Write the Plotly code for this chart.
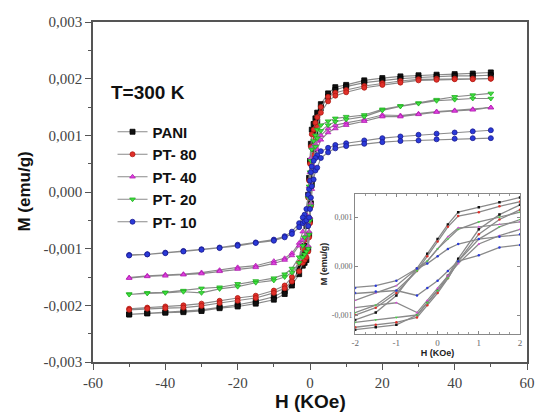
import numpy as np
import plotly.graph_objects as go

# Field grid (kOe), descending order
H = [50, 45, 40, 35, 30, 25, 20, 15, 10, 7, 5, 3, 2, 1.5, 1, 0.5, 0.25, 0,
     -0.25, -0.5, -1, -1.5, -2, -3, -5, -7, -10, -15, -20, -25, -30, -35, -40, -45, -50]

# Magnetization in 1e-3 emu/g, descending branch (field +50 -> -50) and ascending branch
PANI_desc = [2.11, 2.09, 2.08, 2.07, 2.06, 2.04, 2.01, 1.97, 1.89, 1.85, 1.74, 1.55, 1.40, 1.30, 1.20, 1.10, 0.85, 0.55,
             0.25, -0.05, -0.6, -0.95, -1.1, -1.35, -1.6, -1.75, -1.85, -1.93, -1.99, -2.03, -2.08, -2.10, -2.12, -2.14, -2.16]
PANI_asc = [2.06, 2.05, 2.05, 2.04, 2.02, 2.00, 1.97, 1.93, 1.86, 1.80, 1.68, 1.48, 1.25, 1.05, 0.75, 0.15, -0.2, -0.5,
            -0.75, -1.0, -1.2, -1.25, -1.3, -1.45, -1.65, -1.8, -1.9, -1.97, -2.02, -2.05, -2.10, -2.12, -2.13, -2.14, -2.16]
PT80_desc = [2.00, 2.00, 2.00, 2.00, 1.99, 1.96, 1.92, 1.87, 1.80, 1.75, 1.68, 1.50, 1.32, 1.22, 1.10, 1.02, 0.80, 0.50,
             0.2, -0.1, -0.55, -0.85, -1.0, -1.25, -1.5, -1.65, -1.74, -1.83, -1.87, -1.92, -1.97, -2.00, -2.02, -2.04, -2.06]
PT80_asc = [2.00, 1.99, 1.99, 1.98, 1.97, 1.93, 1.89, 1.84, 1.76, 1.70, 1.60, 1.40, 1.15, 0.95, 0.65, 0.1, -0.25, -0.55,
            -0.8, -1.05, -1.15, -1.2, -1.25, -1.4, -1.58, -1.7, -1.78, -1.87, -1.92, -1.96, -2.01, -2.04, -2.05, -2.06, -2.08]
PT40_desc = [1.49, 1.46, 1.44, 1.42, 1.38, 1.35, 1.36, 1.28, 1.22, 1.18, 1.12, 1.0, 0.9, 0.85, 0.8, 0.78, 0.6, 0.35,
             0.1, -0.05, -0.4, -0.55, -0.7, -0.9, -1.08, -1.17, -1.22, -1.30, -1.33, -1.38, -1.42, -1.45, -1.46, -1.48, -1.51]
PT40_asc = [1.49, 1.45, 1.43, 1.41, 1.37, 1.33, 1.33, 1.25, 1.18, 1.12, 1.05, 0.92, 0.75, 0.62, 0.45, 0.05, -0.2, -0.45,
            -0.7, -0.95, -0.75, -0.8, -0.85, -0.95, -1.12, -1.2, -1.26, -1.33, -1.36, -1.40, -1.44, -1.46, -1.48, -1.49, -1.52]
PT20_desc = [1.74, 1.71, 1.68, 1.63, 1.57, 1.52, 1.46, 1.36, 1.33, 1.30, 1.25, 1.18, 1.10, 1.0, 0.9, 0.75, 0.55, 0.35,
             0.1, -0.1, -0.5, -0.8, -0.95, -1.15, -1.35, -1.45, -1.52, -1.57, -1.62, -1.68, -1.70, -1.74, -1.77, -1.78, -1.80]
PT20_asc = [1.65, 1.65, 1.63, 1.61, 1.56, 1.51, 1.44, 1.33, 1.28, 1.24, 1.18, 1.08, 0.95, 0.8, 0.55, 0.1, -0.25, -0.5,
            -0.75, -1.0, -1.05, -1.1, -1.15, -1.25, -1.42, -1.5, -1.56, -1.60, -1.67, -1.71, -1.78, -1.76, -1.78, -1.79, -1.81]
PT10_desc = [1.09, 1.07, 1.05, 1.03, 1.01, 0.98, 0.95, 0.91, 0.86, 0.83, 0.78, 0.72, 0.65, 0.6, 0.55, 0.45, 0.35, 0.2,
             0.05, -0.05, -0.3, -0.4, -0.45, -0.55, -0.7, -0.78, -0.84, -0.89, -0.93, -0.98, -1.01, -1.04, -1.07, -1.10, -1.11]
PT10_asc = [0.95, 0.95, 0.94, 0.93, 0.91, 0.90, 0.88, 0.85, 0.81, 0.77, 0.7, 0.6, 0.43, 0.38, 0.22, 0.1, -0.1, -0.3,
            -0.45, -0.6, -0.5, -0.52, -0.55, -0.62, -0.74, -0.8, -0.86, -0.9, -0.95, -0.99, -1.02, -1.05, -1.08, -1.10, -1.12]

names = ["PANI", "PT-80", "PT-40", "PT-20", "PT-10"]
legend_labels = ["PANI", "PT- 80", "PT- 40", "PT- 20", "PT- 10"]
series_desc = [PANI_desc, PT80_desc, PT40_desc, PT20_desc, PT10_desc]
series_asc = [PANI_asc, PT80_asc, PT40_asc, PT20_asc, PT10_asc]
colors = ["#111111", "#e0302a", "#e040e0", "#40e040", "#2a3ad8"]
edge_colors = ["#000000", "#b01810", "#b020b0", "#20b020", "#1a1a90"]
symbols = ["square", "circle", "triangle-up", "triangle-down", "circle"]

main_xticks = [-60, -40, -20, 0, 20, 40, 60]
main_xticktext = ["-60", "-40", "-20", "0", "20", "40", "60"]
main_yticks = [-0.003, -0.002, -0.001, 0.0, 0.001, 0.002, 0.003]
main_yticktext = ["-0,003", "-0,002", "-0,001", "0,000", "0,001", "0,002", "0,003"]
inset_xticks = [-2, -1, 0, 1, 2]
inset_xticktext = ["-2", "-1", "0", "1", "2"]
inset_yticks = [-0.001, 0.0, 0.001]
inset_yticktext = ["-0,001", "0,000", "0,001"]

fig = go.Figure()
for i in range(5):
    x = list(H) + list(H[::-1])
    y = (np.array(series_desc[i] + series_asc[i][::-1]) * 1e-3).tolist()
    fig.add_trace(go.Scatter(
        x=x, y=y, mode="lines+markers", name="<b>" + legend_labels[i] + "</b>",
        line=dict(color="#8a8a8a", width=1.1),
        marker=dict(symbol=symbols[i], size=5, color=colors[i],
                    line=dict(color=edge_colors[i], width=0.8)),
        xaxis="x", yaxis="y"))
for i in range(5):
    x = list(H) + list(H[::-1])
    y = (np.array(series_desc[i] + series_asc[i][::-1]) * 1e-3).tolist()
    fig.add_trace(go.Scatter(
        x=x, y=y, mode="lines+markers", showlegend=False,
        line=dict(color="#8a8a8a", width=1.3),
        marker=dict(symbol=symbols[i], size=2.5, color=colors[i]),
        xaxis="x2", yaxis="y2", cliponaxis=True))

serif = "Liberation Serif, Times New Roman, DejaVu Serif, serif"
axcol = "#555555"
fig.update_layout(
    width=537, height=416,
    margin=dict(l=93, r=10, t=22, b=54, autoexpand=False),
    paper_bgcolor="white", plot_bgcolor="white",
    showlegend=True,
    legend=dict(x=0.045, y=0.725, xanchor="left", yanchor="top",
                font=dict(family="Arial", size=15, color="#111"),
                bgcolor="rgba(0,0,0,0)", tracegroupgap=0, itemwidth=30,
                traceorder="normal"),
    xaxis=dict(domain=[0, 1], range=[-60, 60], tickvals=main_xticks, ticktext=main_xticktext,
               ticks="outside", ticklen=6, tickwidth=1.3, tickcolor=axcol,
               minor=dict(ticks="outside", ticklen=3, dtick=10, tickcolor=axcol),
               showline=True, linecolor=axcol, linewidth=1.6, mirror=True,
               showgrid=False, zeroline=False,
               tickfont=dict(family=serif, size=15, color="#444")),
    yaxis=dict(domain=[0, 1], range=[-0.003, 0.003], tickvals=main_yticks, ticktext=main_yticktext,
               ticks="outside", ticklen=6, tickwidth=1.3, tickcolor=axcol,
               minor=dict(ticks="outside", ticklen=3, dtick=0.0005, tick0=0, tickcolor=axcol),
               showline=True, linecolor=axcol, linewidth=1.6, mirror=True,
               showgrid=False, zeroline=False,
               tickfont=dict(family=serif, size=15, color="#444")),
    xaxis2=dict(domain=[0.604, 0.984], anchor="y2", range=[-2, 2], tickvals=inset_xticks, ticktext=inset_xticktext,
                ticks="inside", ticklen=3, tickcolor="#888", mirror="allticks",
                minor=dict(ticks="inside", ticklen=2, dtick=0.25, tickcolor="#999"),
                showline=True, linecolor="#888", linewidth=1, showgrid=False, zeroline=False,
                tickfont=dict(family=serif, size=9, color="#666"),
                title=dict(text="<b>H (KOe)</b>", font=dict(family="Arial", size=9, color="#222"), standoff=1)),
    yaxis2=dict(domain=[0.082, 0.494], anchor="x2", range=[-0.00139, 0.00147],
                tickvals=inset_yticks, ticktext=inset_yticktext,
                ticks="inside", ticklen=3, tickcolor="#888", mirror="allticks",
                showline=True, linecolor="#888", linewidth=1, showgrid=False, zeroline=False,
                tickfont=dict(family=serif, size=8, color="#666"),
                title=dict(text="<b>M (emu/g)</b>", font=dict(family="Arial", size=9, color="#222"), standoff=2)),
    annotations=[
        dict(text="<b>T=300 K</b>", x=0.037, y=0.793, xref="paper", yref="paper",
             xanchor="left", yanchor="middle", showarrow=False,
             font=dict(family="Arial", size=19, color="#111")),
        dict(text="<b>H (KOe)</b>", x=0.5, y=-0.08, xref="paper", yref="paper",
             xanchor="center", yanchor="top", showarrow=False,
             font=dict(family="Arial", size=19, color="#111")),
        dict(text="<b>M (emu/g)</b>", x=-0.16, y=0.5, xref="paper", yref="paper",
             xanchor="center", yanchor="middle", showarrow=False, textangle=-90,
             font=dict(family="Arial", size=17, color="#111")),
    ],
)
fig.write_html("out.html", config={"displayModeBar": False},
               post_script="document.body.style.margin='0';document.body.style.padding='0';")
